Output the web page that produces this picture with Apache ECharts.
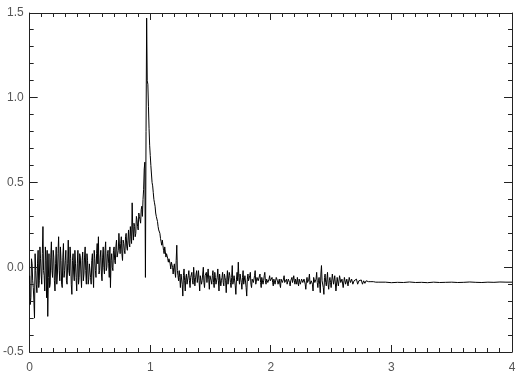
<!DOCTYPE html>
<html>
<head>
<meta charset="utf-8">
<script src="https://cdn.jsdelivr.net/npm/echarts@6/dist/echarts.min.js"></script>
<style>html,body{margin:0;padding:0;background:#fff}#c{width:519px;height:387px}</style>
</head>
<body>
<div id="c"></div>
<script>
const segStep = 0.01;
const seg1Start = 0.00; // 0.00 .. 0.49
const seg1 = [-0.05,-0.18,0.02,-0.12,-0.30,-0.02,-0.15,0.10,-0.08,0.05,
  -0.10,0.24,-0.05,0.12,-0.18,-0.29,0.08,-0.10,0.15,-0.06,
  0.06,-0.14,0.12,-0.04,0.18,-0.08,0.04,-0.12,0.14,-0.02,
  0.10,-0.10,0.16,-0.05,0.05,-0.16,0.08,-0.08,0.02,-0.14,
  0.10,-0.06,0.06,-0.12,0.09,-0.04,0.12,-0.10,0.04,-0.07];
const mid1Start = 0.005;
const mid1 = [-0.22,0.05,-0.08,-0.20,0.08,-0.10,0.02,-0.12,0.12,-0.04,
  0.08,-0.02,-0.14,0.04,0.10,-0.06,-0.12,0.06,-0.02,0.10,
  -0.08,0.02,-0.10,0.08,-0.02,0.12,-0.10,0.06,-0.06,0.04,
  -0.08,0.02,-0.02,0.12,-0.10,0.04,-0.04,0.10,-0.06,0.02,
  -0.10,0.08,-0.04,0.04,-0.08,0.06,-0.02,0.08,-0.10,0.02];
const seg2Start = 0.50; // 0.50 .. 0.99
const seg2 = [0.03,-0.10,0.08,-0.12,0.05,-0.06,0.14,0.18,-0.02,0.10,
  -0.08,0.12,-0.04,0.15,0.00,0.10,-0.06,-0.12,0.08,-0.02,
  0.12,0.02,0.16,0.05,0.20,0.08,0.18,0.04,0.14,0.08,
  0.20,0.10,0.22,0.12,0.18,0.38,0.16,0.24,0.20,0.28,
  0.22,0.30,0.26,0.36,0.40,0.58,-0.06,1.47,1.08,0.82];
const mid2Start = 0.505;
const mid2 = [-0.06,0.04,-0.04,0.10,-0.02,0.08,0.02,-0.04,0.06,-0.04,
  0.06,0.00,0.10,-0.02,0.08,0.02,0.12,0.04,0.00,0.10,
  0.04,0.12,0.06,0.10,0.12,0.14,0.08,0.16,0.10,0.18,
  0.12,0.16,0.14,0.24,0.14,0.22,0.26,0.18,0.30,0.24,
  0.32,0.28,0.34,0.30,0.46,0.62,0.80,1.10,0.95,0.72];
const seg3Start = 1.00; // 1.00 .. 1.49
const seg3 = [0.66,0.55,0.48,0.40,0.36,0.30,0.27,0.22,0.20,0.15,
  0.16,0.10,0.12,0.06,0.09,0.03,0.06,-0.01,0.04,-0.04,
  0.02,-0.06,0.13,-0.05,-0.02,-0.12,-0.03,-0.17,-0.01,-0.14,
  -0.04,-0.09,-0.02,-0.12,-0.05,-0.08,0.00,-0.11,-0.04,-0.09,
  -0.02,-0.14,-0.05,-0.08,0.00,-0.12,-0.06,-0.09,-0.01,-0.13];
const mid3Start = 1.005;
const mid3 = [0.60,0.50,0.44,0.38,0.32,0.29,0.24,0.21,0.17,0.13,
  0.13,0.08,0.09,0.08,0.05,0.05,0.02,0.03,0.00,0.00,
  -0.03,0.04,-0.02,-0.08,-0.06,-0.04,-0.10,-0.05,-0.08,-0.06,
  -0.10,-0.05,-0.08,-0.06,-0.03,-0.10,-0.06,-0.07,-0.02,-0.10,
  -0.08,-0.05,-0.10,-0.04,-0.09,-0.05,-0.03,-0.10,-0.07,-0.05];
const seg4Start = 1.50; // 1.50 .. 1.99
const seg4 = [-0.04,-0.10,-0.02,-0.12,-0.06,-0.09,-0.01,-0.14,-0.05,-0.08,
  -0.03,-0.11,-0.06,-0.15,-0.02,-0.09,-0.05,-0.12,0.01,-0.08,
  -0.04,-0.16,-0.03,0.03,-0.10,-0.05,-0.13,-0.02,-0.09,-0.06,
  -0.17,-0.04,-0.09,-0.03,-0.12,-0.06,-0.08,-0.02,-0.11,-0.05,
  -0.09,-0.04,-0.12,-0.06,-0.08,-0.03,-0.10,-0.06,-0.09,-0.05];
const mid4Start = 1.505;
const mid4 = [-0.08,-0.05,-0.09,-0.03,-0.10,-0.06,-0.08,-0.04,-0.11,-0.06,
  -0.09,-0.04,-0.08,-0.07,-0.10,-0.03,-0.09,-0.06,-0.10,-0.05,
  -0.11,-0.07,-0.08,-0.06,-0.04,-0.09,-0.06,-0.10,-0.05,-0.12,
  -0.07,-0.08,-0.05,-0.10,-0.07,-0.09,-0.05,-0.10,-0.06,-0.08,
  -0.07,-0.09,-0.06,-0.10,-0.05,-0.08,-0.07,-0.09,-0.07,-0.08];
const seg5Start = 2.00; // 2.00 .. 2.49
const seg5 = [-0.09,-0.06,-0.11,-0.07,-0.09,-0.05,-0.10,-0.07,-0.12,-0.06,
  -0.08,-0.05,-0.10,-0.07,-0.09,-0.06,-0.11,-0.07,-0.09,-0.05,
  -0.10,-0.08,-0.06,-0.11,-0.07,-0.09,-0.06,-0.10,-0.08,-0.13,
  -0.06,-0.09,-0.04,-0.11,-0.07,-0.14,-0.05,-0.10,-0.03,-0.12,
  -0.06,-0.15,0.01,-0.09,-0.16,-0.04,-0.11,-0.03,-0.13,-0.06];
const mid5Start = 2.005;
const mid5 = [-0.08,-0.09,-0.07,-0.10,-0.06,-0.08,-0.09,-0.10,-0.07,-0.09,
  -0.07,-0.09,-0.08,-0.10,-0.07,-0.09,-0.08,-0.06,-0.10,-0.08,
  -0.07,-0.10,-0.09,-0.07,-0.10,-0.07,-0.09,-0.07,-0.10,-0.08,
  -0.09,-0.07,-0.10,-0.08,-0.10,-0.06,-0.09,-0.07,-0.09,-0.08,
  -0.10,-0.04,-0.08,-0.12,-0.06,-0.09,-0.07,-0.10,-0.08,-0.09];
const seg6Start = 2.50; // 2.50 .. 2.89
const seg6 = [-0.12,-0.04,-0.10,-0.05,-0.14,-0.06,-0.11,-0.05,-0.09,-0.07,
  -0.12,-0.06,-0.10,-0.07,-0.11,-0.06,-0.09,-0.07,-0.10,-0.08,
  -0.09,-0.07,-0.10,-0.08,-0.09,-0.075,-0.10,-0.08,-0.095,-0.08,
  -0.09,-0.085,-0.095,-0.085,-0.09,-0.085,-0.09,-0.088,-0.092,-0.088];
const tailStart = 2.90; // 2.90 .. 4.00, every 0.05
const tailStep = 0.05;
const tail = [-0.090,-0.088,-0.091,-0.089,-0.090,-0.087,-0.090,-0.089,-0.091,-0.088,
  -0.090,-0.089,-0.088,-0.090,-0.089,-0.087,-0.089,-0.090,-0.088,-0.089,
  -0.087,-0.088,-0.088];

// axis ranges and tick spacing
const xMin = 0, xMax = 4, xMajor = 1, xMinorPerMajor = 10;
const yMin = -0.5, yMax = 1.5, yMajor = 0.5, yMinorPerMajor = 5;
const yLabelDecimals = 1;

function pairs(start, step, arr){
  return arr.map((v,i)=>[+(start + i*step).toFixed(4), v]);
}
const data = [].concat(
  pairs(seg1Start, segStep, seg1), pairs(mid1Start, segStep, mid1),
  pairs(seg2Start, segStep, seg2), pairs(mid2Start, segStep, mid2),
  pairs(seg3Start, segStep, seg3), pairs(mid3Start, segStep, mid3),
  pairs(seg4Start, segStep, seg4), pairs(mid4Start, segStep, mid4),
  pairs(seg5Start, segStep, seg5), pairs(mid5Start, segStep, mid5),
  pairs(seg6Start, segStep, seg6),
  pairs(tailStart, tailStep, tail)
).sort((a,b)=>a[0]-b[0]);

// tick positions (axis values), major every xMajor / yMajor
const xTicks = [];
const nx = Math.round((xMax - xMin) / xMajor * xMinorPerMajor);
for (let i = 0; i <= nx; i++) xTicks.push([+(xMin + i * xMajor / xMinorPerMajor).toFixed(4), yMin, i % xMinorPerMajor === 0 ? 1 : 0]);
const yTicks = [];
const ny = Math.round((yMax - yMin) / yMajor * yMinorPerMajor);
for (let i = 0; i <= ny; i++) yTicks.push([xMin, +(yMin + i * yMajor / yMinorPerMajor).toFixed(4), i % yMinorPerMajor === 0 ? 1 : 0]);

const axisCol = '#222';
const tickStyle = {stroke: axisCol, lineWidth: 1};
function crisp(v){ return Math.round(v - 0.5) + 0.5; }

function xAx(pos, showLabel){
  return {
    type:'value', position:pos, min:xMin, max:xMax, interval:xMajor,
    axisLine:{show:true, onZero:false, lineStyle:{color:axisCol, width:1}},
    axisTick:{show:false},
    axisLabel:{show:showLabel, margin:10, color:'#555', fontSize:12},
    splitLine:{show:false}
  };
}
function yAx(pos, showLabel){
  return {
    type:'value', position:pos, min:yMin, max:yMax, interval:yMajor,
    axisLine:{show:true, onZero:false, lineStyle:{color:axisCol, width:1}},
    axisTick:{show:false},
    axisLabel:{show:showLabel, margin:6, color:'#555', fontSize:12,
      formatter:(v)=>Number(v).toFixed(yLabelDecimals)},
    splitLine:{show:false}
  };
}

const chart = echarts.init(document.getElementById('c'));
chart.setOption({
  animation:false,
  grid:{left:29, right:7, top:13, bottom:35},
  xAxis:[xAx('bottom', true), xAx('top', false)],
  yAxis:[yAx('left', true), yAx('right', false)],
  series:[
    {
      type:'line', data:data,
      showSymbol:false,
      lineStyle:{color:'#000', width:1},
      z:3
    },
    {
      // inward ticks on bottom and top edges
      type:'custom', silent:true, z:4, clip:false,
      data:xTicks,
      renderItem:function(params, api){
        const v = api.value(0), major = api.value(2);
        const b = api.coord([v, yMin]), t = api.coord([v, yMax]);
        const len = major ? 7 : 4;
        const x = crisp(b[0]);
        return {type:'group', children:[
          {type:'line', shape:{x1:x, y1:b[1], x2:x, y2:b[1]-len}, style:tickStyle},
          {type:'line', shape:{x1:x, y1:t[1], x2:x, y2:t[1]+len}, style:tickStyle}
        ]};
      }
    },
    {
      // inward ticks on left and right edges
      type:'custom', silent:true, z:4, clip:false,
      data:yTicks,
      renderItem:function(params, api){
        const v = api.value(1), major = api.value(2);
        const l = api.coord([xMin, v]), r = api.coord([xMax, v]);
        const len = major ? 8 : 4;
        const y = crisp(l[1]);
        return {type:'group', children:[
          {type:'line', shape:{x1:l[0], y1:y, x2:l[0]+len, y2:y}, style:tickStyle},
          {type:'line', shape:{x1:r[0], y1:y, x2:r[0]-len, y2:y}, style:tickStyle}
        ]};
      }
    }
  ]
});
</script>
</body>
</html>
